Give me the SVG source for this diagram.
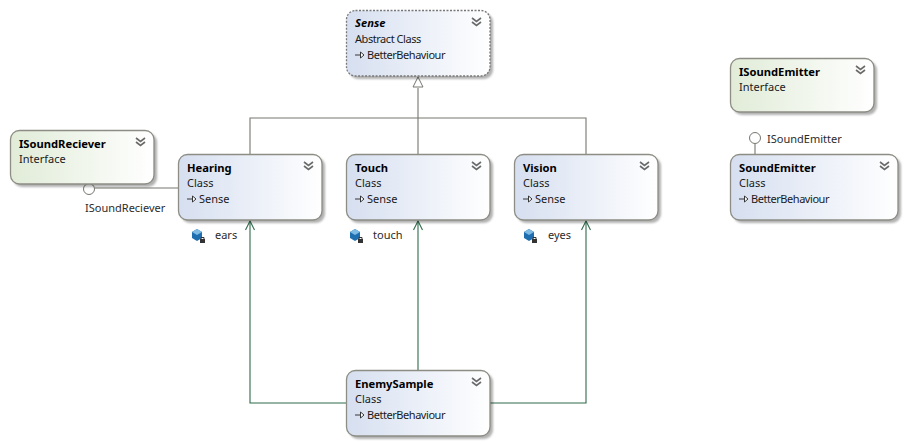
<svg xmlns="http://www.w3.org/2000/svg" width="907" height="445" viewBox="0 0 907 445">
<style>
text{font-family:"Noto Sans","Open Sans","Liberation Sans",sans-serif;font-size:11px;fill:#1a1a1a}
.t{font-weight:700;font-size:11.2px;fill:#000}
.i{font-style:italic}
.n{letter-spacing:-.45px}
.b{fill:url(#blue);stroke:#8d8d85;stroke-width:1.3}
.g{fill:url(#green);stroke:#8d8d85;stroke-width:1.3}
.d{stroke-dasharray:2 1.5;stroke:#777}
.s{fill:#000;opacity:.3;filter:url(#blur)}
.c{fill:none;stroke:#77776f;stroke-width:1.1}
.e{fill:none;stroke:#2f6b4a;stroke-width:1.1}
.ch{fill:none;stroke:#6a6a6a;stroke-width:1.6}
.ar{fill:#fff;stroke:#222;stroke-width:.9}
.l{fill:#2b2b2b}
</style>
<defs>
<linearGradient id="blue"><stop offset="0" stop-color="#d6dff0"/><stop offset="1" stop-color="#fff"/></linearGradient>
<linearGradient id="green"><stop offset="0" stop-color="#e1ecd8"/><stop offset="1" stop-color="#fff"/></linearGradient>
<filter id="blur" x="-10%" y="-10%" width="120%" height="120%"><feGaussianBlur stdDeviation="1.2"/></filter>
<marker id="open" markerWidth="12" markerHeight="12" refX="10" refY="5" orient="auto" markerUnits="userSpaceOnUse"><path d="M1 0.5L10 5L1 9.5" fill="none" stroke="#2f6b4a" stroke-width="1.1"/></marker>
<g id="chev"><path class="ch" d="M0 0l4.500 3.500l4.500-3.500M0 4l4.500 3.500l4.500-3.500"/></g>
<g id="inh"><path class="ar" d="M0 0h5.500"/><path class="ar" d="M5.500 -3L9 0L5.500 3Z"/></g>
<g id="cube"><path d="M0 3l5-3l5 3v6l-5 3l-5-3z" fill="#1f6fb0"/><path d="M0 3l5-3l5 3l-5 3z" fill="#7fbbe3"/><rect x="8" y="10" width="5" height="4" fill="#333"/><path d="M9 10V8.500h3V10" fill="none" stroke="#333"/></g>
</defs>
<rect width="907" height="445" fill="#fff"/>
<g id="connectors">
<path class="c" d="M250 154V118H586V154M418 154V88"/>
<path d="M418 77L423 87H413Z" fill="#fff" stroke="#77776f"/>
<path class="c" d="M95 188H178"/>
<circle cx="89" cy="189" r="5.500" fill="#fff" stroke="#77776f"/>
<path class="c" d="M755 144V154"/>
<circle cx="755" cy="138" r="5.500" fill="#fff" stroke="#77776f"/>
<path class="e" marker-end="url(#open)" d="M346 403H250V221"/>
<path class="e" marker-end="url(#open)" d="M418 370V221"/>
<path class="e" marker-end="url(#open)" d="M490 403H586V221"/>
</g>
<g id="sense"><rect class="s" x="349" y="13" width="144" height="66" rx="9"/><rect class="b d" x="346.500" y="10.500" width="143.500" height="65.500" rx="9"/><text class="t i" x="355" y="27">Sense</text><text class="n" x="355" y="43">Abstract Class</text><use href="#inh" x="355" y="55"/><text class="n" x="367" y="59">BetterBehaviour</text><use href="#chev" x="472" y="18"/></g>
<g id="isoundreciever"><rect class="s" x="13" y="133" width="144" height="54" rx="9"/><rect class="g" x="10.500" y="130.500" width="143.500" height="53.500" rx="9"/><text class="t" x="19" y="148">ISoundReciever</text><text x="19" y="163">Interface</text><use href="#chev" x="136" y="138"/></g>
<g id="hearing"><rect class="s" x="181" y="157" width="144" height="66" rx="9"/><rect class="b" x="178.500" y="154.500" width="143.500" height="65.500" rx="9"/><text class="t" x="187" y="172">Hearing</text><text x="187" y="187">Class</text><use href="#inh" x="187" y="199"/><text x="199" y="203">Sense</text><use href="#chev" x="304" y="162"/></g>
<g id="touch"><rect class="s" x="349" y="157" width="144" height="66" rx="9"/><rect class="b" x="346.500" y="154.500" width="143.500" height="65.500" rx="9"/><text class="t" x="355" y="172">Touch</text><text x="355" y="187">Class</text><use href="#inh" x="355" y="199"/><text x="367" y="203">Sense</text><use href="#chev" x="472" y="162"/></g>
<g id="vision"><rect class="s" x="517" y="157" width="144" height="66" rx="9"/><rect class="b" x="514.500" y="154.500" width="143.500" height="65.500" rx="9"/><text class="t" x="523" y="172">Vision</text><text x="523" y="187">Class</text><use href="#inh" x="523" y="199"/><text x="535" y="203">Sense</text><use href="#chev" x="640" y="162"/></g>
<g id="enemysample"><rect class="s" x="349" y="373" width="144" height="66" rx="9"/><rect class="b" x="346.500" y="370.500" width="143.500" height="65.500" rx="9"/><text class="t" x="355" y="388">EnemySample</text><text x="355" y="403">Class</text><use href="#inh" x="355" y="415"/><text class="n" x="367" y="419">BetterBehaviour</text><use href="#chev" x="472" y="378"/></g>
<g id="isoundemitter"><rect class="s" x="733" y="61" width="144" height="54" rx="9"/><rect class="g" x="730.500" y="58.500" width="143.500" height="53.500" rx="9"/><text class="t" x="739" y="76">ISoundEmitter</text><text x="739" y="91">Interface</text><use href="#chev" x="856" y="66"/></g>
<g id="soundemitter"><rect class="s" x="733" y="157" width="168" height="66" rx="9"/><rect class="b" x="730.500" y="154.500" width="167.500" height="65.500" rx="9"/><text class="t" x="739" y="172">SoundEmitter</text><text x="739" y="187">Class</text><use href="#inh" x="739" y="199"/><text class="n" x="751" y="203">BetterBehaviour</text><use href="#chev" x="880" y="162"/></g>
<g id="labels">
<text class="l" x="85" y="212">ISoundReciever</text>
<text class="l" x="767" y="143">ISoundEmitter</text>
<use href="#cube" x="192" y="229"/><text class="l" x="215" y="239">ears</text>
<use href="#cube" x="350" y="229"/><text class="l" x="373" y="239">touch</text>
<use href="#cube" x="524" y="229"/><text class="l" x="548" y="239">eyes</text>
</g>
</svg>
